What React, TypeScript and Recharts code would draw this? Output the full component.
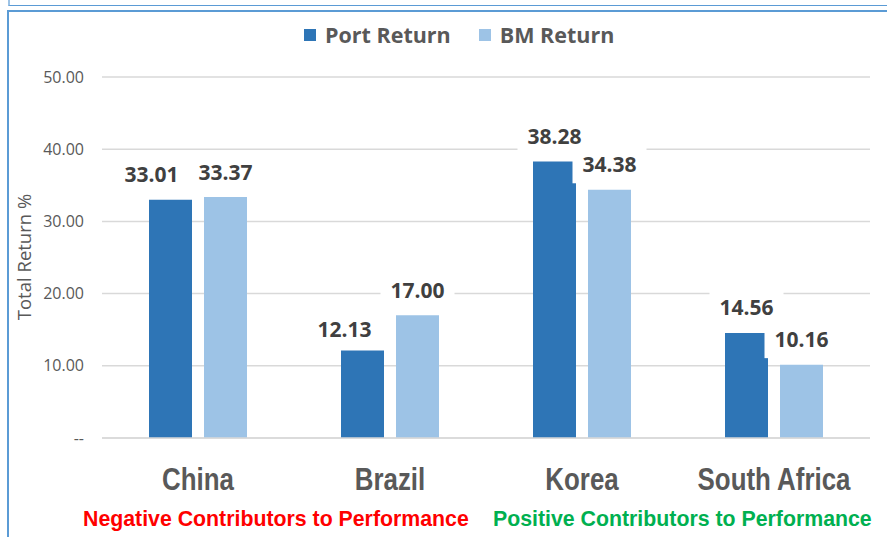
import React from "react"
import { BarChart, Bar, XAxis, YAxis, CartesianGrid, Legend, LabelList } from "recharts"

const countries = ["China", "Brazil", "Korea", "South Africa"]
const portReturn = [33.01, 12.13, 38.28, 14.56]
const bmReturn = [33.37, 17.0, 34.38, 10.16]
const yTicks = [0, 10, 20, 30, 40, 50]
const seriesNames = ["Port Return", "BM Return"]

const PORT = "#2e75b6"
const BM = "#9dc3e6"
const GREY = "#595959"

// small hand nudges for the data tags (Excel had a couple moved by hand)
const portNudge = [[-19, 0], [-18, 4], [0, 0], [0, 0]]
const bmNudge = [[0, 0], [0, 0], [0, 0], [0, 0]]

const data = countries.map((name, i) => ({ name, port: portReturn[i], bm: bmReturn[i] }))

function DataTag(props: any) {
  const { x, y, width, value, index, nudge } = props
  const [dx, dy] = nudge[index] || [0, 0]
  const cx = Number(x) + Number(width) / 2 + dx
  const cy = Number(y) - 25 + dy
  return (
    <g>
      <rect x={cx - 37} y={cy - 18.5} width={74} height={37} fill="#fff" />
      <text
        x={cx}
        y={cy + 7.5}
        textAnchor="middle"
        fontFamily="'Open Sans', sans-serif"
        fontWeight={700}
        fontSize={21}
        fill="#404040"
      >
        {Number(value).toFixed(2)}
      </text>
    </g>
  )
}

// no narrow font installed, so squeeze Liberation Sans Bold horizontally
function CountryTick(props: any) {
  const { x, y, payload } = props
  return (
    <text
      transform={`translate(${x} ${y + 52}) scale(0.835 1)`}
      textAnchor="middle"
      fontFamily="'Liberation Sans', Arial, sans-serif"
      fontWeight={700}
      fontSize={31}
      fill={GREY}
    >
      {payload.value}
    </text>
  )
}

function LegendBox(props: any) {
  const items = [...(props.payload || [])].sort(
    (a: any, b: any) => seriesNames.indexOf(a.value) - seriesNames.indexOf(b.value)
  )
  return (
    <div
      style={{
        display: "flex",
        alignItems: "center",
        fontFamily: "'Open Sans', sans-serif",
        fontWeight: 700,
        fontSize: 21.5,
        lineHeight: "30px",
        color: GREY,
        whiteSpace: "nowrap",
      }}
    >
      {items.map((p: any, i: number) => (
        <div key={p.value} style={{ display: "flex", alignItems: "center", marginLeft: i ? 28 : 0 }}>
          <span style={{ width: 12, height: 12, background: p.color, marginRight: 9, display: "inline-block" }} />
          <span>{p.value}</span>
        </div>
      ))}
    </div>
  )
}

export default function App() {
  return (
    <div style={{ position: "fixed", left: 0, top: 0, width: 887, height: 537, background: "#fff", overflow: "hidden" }}>
      {/* frame lines from the slide */}
      <div style={{ position: "absolute", left: 8, top: -2, width: 900, height: 7, borderLeft: "2px solid #9dc3e6", borderBottom: "1.5px solid #5b9bd5" }} />
      <div style={{ position: "absolute", left: 7, top: 10, width: 900, height: 600, border: "2px solid #5b9bd5" }} />

      <div style={{ position: "absolute", left: 0, top: 0 }}>
        <BarChart
          width={887}
          height={537}
          data={data}
          margin={{ top: 77, right: 17, bottom: 39, left: 0 }}
          barSize={43}
          barGap={12}
        >
          <CartesianGrid vertical={false} stroke="#d9d9d9" strokeWidth={1.5} />
          <XAxis
            dataKey="name"
            height={60}
            tickSize={0}
            tickMargin={0}
            tickLine={false}
            axisLine={{ stroke: "#d9d9d9", strokeWidth: 1.5 }}
            tick={<CountryTick />}
            interval={0}
          />
          <YAxis
            width={102}
            domain={[0, 50]}
            ticks={yTicks}
            axisLine={false}
            tickLine={false}
            tickSize={0}
            tickMargin={18}
            tick={{ fill: GREY, fontSize: 16, fontFamily: "'Open Sans', sans-serif" }}
            tickFormatter={(v: number) => (v === 0 ? "--" : v.toFixed(2))}
          />
          <Legend
            layout="horizontal"
            verticalAlign="middle"
            align="center"
            wrapperStyle={{ top: 20, left: 304, width: "auto" }}
            content={<LegendBox />}
          />
          <Bar dataKey="port" name="Port Return" fill={PORT} isAnimationActive={false}>
            <LabelList dataKey="port" content={(p: any) => <DataTag {...p} nudge={portNudge} />} />
          </Bar>
          <Bar dataKey="bm" name="BM Return" fill={BM} isAnimationActive={false}>
            <LabelList dataKey="bm" content={(p: any) => <DataTag {...p} nudge={bmNudge} />} />
          </Bar>
        </BarChart>
      </div>

      <svg width={887} height={537} style={{ position: "absolute", left: 0, top: 0, pointerEvents: "none" }}>
        <text
          transform="translate(31 257) rotate(-90)"
          textAnchor="middle"
          fontFamily="'Open Sans', sans-serif"
          fontSize={18.5}
          fill={GREY}
        >
          Total Return %
        </text>
        <text x={83} y={526} fontFamily="'Liberation Sans', Arial, sans-serif" fontWeight={700} fontSize={21.3} fill="#ff0000">
          Negative Contributors to Performance
        </text>
        <text x={493} y={526} fontFamily="'Liberation Sans', Arial, sans-serif" fontWeight={700} fontSize={21.3} fill="#00b050">
          Positive Contributors to Performance
        </text>
      </svg>
    </div>
  )
}
